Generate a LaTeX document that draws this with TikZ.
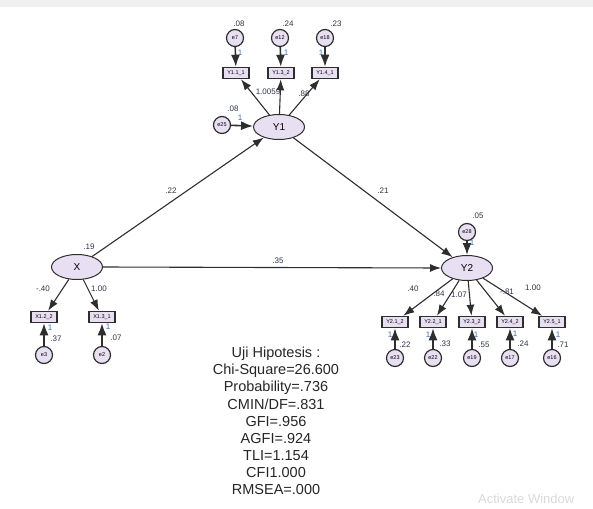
\documentclass[tikz,border=0pt]{standalone}
\usepackage{fontspec}
\setmainfont{Liberation Sans}
\usepackage{tikz}
\usetikzlibrary{shapes.geometric}
\usetikzlibrary{arrows.meta}

\definecolor{lav}{HTML}{E9DFF3}
\definecolor{edgecol}{HTML}{2E2E2E}
\definecolor{estcol}{HTML}{2E3448}
\definecolor{fixcol}{HTML}{3C6DB4}

\begin{document}
\begin{tikzpicture}[x=1pt,y=-1pt,
    latent/.style={ellipse,draw=edgecol,fill=lav,line width=1pt,
      minimum width=51pt,minimum height=25pt,inner sep=0pt,
      font=\fontsize{10}{10}\selectfont},
    obs/.style={rectangle,draw=edgecol,fill=lav,line width=1.5pt,
      minimum width=26pt,minimum height=11pt,inner sep=0pt,
      font=\fontsize{5.5}{5.5}\selectfont},
    err/.style={circle,draw=edgecol,fill=lav,line width=1.2pt,
      minimum size=17pt,inner sep=0pt,font=\fontsize{5.5}{5.5}\selectfont},
    reg/.style={-{Latex[length=11pt,width=8pt]},draw=edgecol,line width=1.1pt},
    errarr/.style={-{Latex[length=12pt,width=9pt]},draw=edgecol,line width=1.6pt},
    estlbl/.style={text=estcol,font=\fontsize{8}{8}\selectfont,inner sep=0pt},
    onelbl/.style={text=fixcol,font=\fontsize{8}{8}\selectfont,inner sep=0pt}]
  \useasboundingbox (0,0) rectangle (593,508);
  \fill[gray!12] (0,0) rectangle (593,7);

  % latent variables
  \node[latent] (y1) at (279,127) {Y1};
  \node[latent] (x) at (77,267) {X};
  \node[latent] (y2) at (467,268) {Y2};

  % indicators of Y1
  \node[obs] (y11) at (236,73) {Y1.1\_1};
  \node[obs] (y13) at (281,73) {Y1.3\_2};
  \node[obs] (y14) at (325,73) {Y1.4\_1};
  \node[err] (e7) at (235,38) {e7};
  \node[err] (e12) at (280,38) {e12};
  \node[err] (e18) at (325,38) {e18};
  \node[err] (e25) at (222,125) {e25};

  % indicators of X
  \node[obs] (x12) at (44,317) {X1.2\_2};
  \node[obs] (x13) at (102,317) {X1.3\_1};
  \node[err] (e3) at (44,355) {e3};
  \node[err] (e2) at (102,355) {e2};

  % indicators of Y2
  \node[err] (e28) at (467,232) {e28};
  \node[obs] (y21) at (395,322) {Y2.1\_2};
  \node[obs] (y22) at (433,322) {Y2.2\_1};
  \node[obs] (y23) at (472,322) {Y2.3\_2};
  \node[obs] (y24) at (510,322) {Y2.4\_2};
  \node[obs] (y25) at (552,322) {Y2.5\_1};
  \node[err] (e23) at (395,358) {e23};
  \node[err] (e22) at (433,358) {e22};
  \node[err] (e19) at (472,358) {e19};
  \node[err] (e17) at (510,358) {e17};
  \node[err] (e16) at (552,358) {e16};

  % structural paths
  \draw[reg] (x) -- (y1);
  \draw[reg] (y1) -- (y2);
  \draw[reg] (x.east) -- (y2.west);
  \node[estlbl] (b22) at (171,191) {.22};
  \node[estlbl] (b21) at (383,191) {.21};
  \node[estlbl] (b35) at (278,261) {.35};

  % loadings
  \draw[reg] (y1) -- (y11);
  \draw[reg] (y1) -- (y13);
  \draw[reg] (y1) -- (y14);
  \draw[reg] (x) -- (x12);
  \draw[reg] (x) -- (x13);
  \foreach \ind in {y21,y22,y23,y24,y25}
    \draw[reg] (y2) -- (\ind);
  \node[estlbl] (l13) at (268,92) {1.0059};
  \node[estlbl] (l14) at (304,94) {.88};
  \node[estlbl] (l12) at (43,289) {-.40};
  \node[estlbl] (lx13) at (99,289) {1.00};
  \node[estlbl] (l21) at (413,289) {.40};
  \node[estlbl] (l22) at (439,294) {.84};
  \node[estlbl] (l23) at (459,295) {1.07};
  \node[estlbl] (l24) at (507,292) {-.81};
  \node[estlbl] (l25) at (533,288) {1.00};

  % error terms
  \draw[errarr] (e7) -- (y11);
  \draw[errarr] (e12) -- (y13);
  \draw[errarr] (e18) -- (y14);
  \draw[errarr] (e25) -- (y1);
  \draw[errarr] (e3) -- (x12);
  \draw[errarr] (e2) -- (x13);
  \draw[errarr] (e28) -- (y2);
  \draw[errarr] (e23) -- (y21);
  \draw[errarr] (e22) -- (y22);
  \draw[errarr] (e19) -- (y23);
  \draw[errarr] (e17) -- (y24);
  \draw[errarr] (e16) -- (y25);

  % variances and fixed weights
  \node[estlbl] (v7) at (239,24) {.08};
  \node[estlbl] (v12) at (288,24) {.24};
  \node[estlbl] (v18) at (336,24) {.23};
  \node[onelbl] (f7) at (240,53) {1};
  \node[onelbl] (f12) at (286,53) {1};
  \node[onelbl] (f18) at (321,53) {1};
  \node[estlbl] (v25) at (233,109) {.08};
  \node[onelbl] (f25) at (240,118) {1};
  \node[estlbl] (vx) at (89,247) {.19};
  \node[onelbl] (f3) at (50,328) {1};
  \node[estlbl] (v3) at (56,339) {.37};
  \node[onelbl] (f2) at (108,327) {1};
  \node[estlbl] (v2) at (116,338) {.07};
  \node[estlbl] (v28) at (478,216) {.05};
  \node[onelbl] (f28) at (472,243) {1};
  \node[onelbl] (f23) at (390,335) {1};
  \node[estlbl] (v23) at (405,345) {.22};
  \node[onelbl] (f22) at (428,335) {1};
  \node[estlbl] (v22) at (445,344) {.33};
  \node[onelbl] (f19) at (476,335) {1};
  \node[estlbl] (v19) at (484,345) {.55};
  \node[onelbl] (f17) at (515,334) {1};
  \node[estlbl] (v17) at (523,344) {.24};
  \node[onelbl] (f16) at (558,335) {1};
  \node[estlbl] (v16) at (563,345) {.71};

  % fit indices
  \node[align=center,inner sep=0pt,text=black!85,
    font=\fontsize{14.5}{17.1}\selectfont] (fit) at (276,421)
    {Uji Hipotesis :\\Chi-Square=26.600\\Probability=.736\\CMIN/DF=.831\\
     GFI=.956\\AGFI=.924\\TLI=1.154\\CFI1.000\\RMSEA=.000};

  \node[anchor=north west,inner sep=0pt,text=gray!30,
    font=\fontsize{13}{13}\selectfont] (wm) at (478,494) {Activate Window};
\end{tikzpicture}
\end{document}
